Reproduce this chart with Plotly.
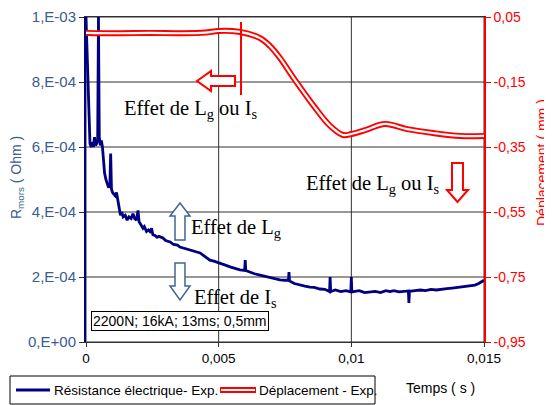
import plotly.graph_objects as go

# --- DATA ---
res_time = [0, 0.00015, 0.0002, 0.00024, 0.00028, 0.00032, 0.00036, 0.0004, 0.00044, 0.00047,
            0.0005, 0.00054, 0.00058, 0.00062, 0.00066, 0.0007, 0.00075, 0.0008, 0.00085, 0.0009,
            0.00093, 0.00096, 0.001, 0.00105, 0.0011, 0.00115, 0.0012, 0.00125, 0.0013, 0.00135,
            0.0014, 0.00148, 0.00155, 0.00162, 0.0017, 0.00177, 0.00183, 0.0019, 0.00196, 0.002,
            0.00208, 0.00215, 0.0022, 0.00228, 0.00235, 0.00241, 0.00247, 0.00252, 0.0026, 0.00268,
            0.00275, 0.0029, 0.003, 0.00317, 0.0033, 0.00345, 0.00354, 0.0037, 0.00392, 0.0041,
            0.0043, 0.0045, 0.00467, 0.00485, 0.00505, 0.0052, 0.00543, 0.0056, 0.0058, 0.00598,
            0.006, 0.00602, 0.00618, 0.00635, 0.00656, 0.00675, 0.00693, 0.0071, 0.00731, 0.0075,
            0.00763, 0.00765, 0.00767, 0.00785, 0.00807, 0.00825, 0.00844, 0.0086, 0.00882, 0.009,
            0.00918, 0.0092, 0.00922, 0.0094, 0.0096, 0.0098, 0.00998, 0.01, 0.01002, 0.0103,
            0.0105, 0.0107, 0.0109, 0.0111, 0.0113, 0.01146, 0.0116, 0.0118, 0.01215, 0.01217,
            0.01219, 0.0124, 0.0126, 0.0128, 0.013, 0.0132, 0.0134, 0.0136, 0.0138, 0.0141,
            0.0143, 0.01466, 0.0148, 0.015]
res_ohm = [1.0e-3, 6.1e-4, 6.0e-4, 6.15e-4, 6.0e-4, 6.3e-4, 6.05e-4, 6.1e-4, 6.2e-4, 1.0e-3,
           6.3e-4, 6.05e-4, 6.2e-4, 6.0e-4, 5.6e-4, 5.2e-4, 5.0e-4, 4.9e-4, 4.75e-4, 4.85e-4,
           5.8e-4, 4.7e-4, 4.6e-4, 4.55e-4, 4.5e-4, 4.6e-4, 4.35e-4, 4.2e-4, 3.9e-4, 4.0e-4,
           3.85e-4, 3.9e-4, 3.75e-4, 3.85e-4, 3.8e-4, 3.95e-4, 3.8e-4, 3.75e-4, 4.05e-4, 3.7e-4,
           3.6e-4, 3.5e-4, 3.55e-4, 3.4e-4, 3.45e-4, 3.4e-4, 3.5e-4, 3.3e-4, 3.28e-4, 3.22e-4,
           3.25e-4, 3.2e-4, 3.12e-4, 3.08e-4, 3.0e-4, 2.98e-4, 2.92e-4, 2.88e-4, 2.83e-4, 2.8e-4,
           2.74e-4, 2.62e-4, 2.52e-4, 2.48e-4, 2.43e-4, 2.38e-4, 2.31e-4, 2.26e-4, 2.22e-4, 2.2e-4,
           2.52e-4, 2.2e-4, 2.15e-4, 2.1e-4, 2.06e-4, 2.02e-4, 2.0e-4, 1.95e-4, 1.91e-4, 1.9e-4,
           1.9e-4, 2.15e-4, 1.88e-4, 1.8e-4, 1.75e-4, 1.72e-4, 1.69e-4, 1.68e-4, 1.63e-4, 1.62e-4,
           1.55e-4, 2.0e-4, 1.55e-4, 1.6e-4, 1.55e-4, 1.58e-4, 1.54e-4, 2.0e-4, 1.54e-4, 1.58e-4,
           1.52e-4, 1.55e-4, 1.56e-4, 1.52e-4, 1.58e-4, 1.55e-4, 1.58e-4, 1.54e-4, 1.57e-4, 1.2e-4,
           1.56e-4, 1.58e-4, 1.6e-4, 1.58e-4, 1.62e-4, 1.6e-4, 1.63e-4, 1.64e-4, 1.66e-4, 1.69e-4,
           1.7e-4, 1.75e-4, 1.8e-4, 1.9e-4]

dep_time = [0, 0.0012, 0.0024, 0.0036, 0.0045, 0.005, 0.0058, 0.00656, 0.00693, 0.00731,
            0.0078, 0.00856, 0.0092, 0.00969, 0.01, 0.01052, 0.01127, 0.0121, 0.01308, 0.0141, 0.015]
dep_mm = [0.001, 0.0, 0.001, 0.0, 0.002, 0.007, 0.004, -0.015, -0.039, -0.076,
          -0.135, -0.221, -0.285, -0.313, -0.31, -0.298, -0.279, -0.295, -0.307, -0.316, -0.316]

x_ticks = [0, 0.005, 0.01, 0.015]
x_labels = ["0", "0,005", "0,01", "0,015"]
y_ticks = [0, 2e-4, 4e-4, 6e-4, 8e-4, 1e-3]
y_labels = ["0,E+00", "2,E-04", "4,E-04", "6,E-04", "8,E-04", "1,E-03"]
y2_ticks = [-0.95, -0.75, -0.55, -0.35, -0.15, 0.05]
y2_labels = ["-0,95", "-0,75", "-0,55", "-0,35", "-0,15", "0,05"]

NAVY = "#000080"
RED = "#FF0000"
BLUE_TXT = "#3A5C8E"
ARROW_BLUE = "#3F6694"
GRID = "#303030"
SANS = "Liberation Sans, Arial"
SERIF = "Liberation Serif, Times New Roman"

# page has an 8px body margin; positions below are page pixels
OFF = 8
PAGE_W, PAGE_H = 552, 405
L, R, T, B = 86, 484, 17, 342
def fx(p):
    return (p - L) / (R - L)
def fy(p):
    return (B - p) / (B - T)

def path(pts):
    return "M " + " L ".join(f"{fx(a):.4f},{fy(b):.4f}" for a, b in pts) + " Z"

fig = go.Figure()
# hollow red line: thick red, thin white on top
fig.add_trace(go.Scatter(x=dep_time, y=dep_mm, yaxis="y2", mode="lines", line_shape="spline",
                         line=dict(color=RED, width=6), showlegend=False, hoverinfo="skip"))
fig.add_trace(go.Scatter(x=dep_time, y=dep_mm, yaxis="y2", mode="lines", line_shape="spline",
                         line=dict(color="white", width=2.2), showlegend=False))
fig.add_trace(go.Scatter(x=res_time, y=res_ohm, mode="lines",
                         line=dict(color=NAVY, width=2.8), showlegend=False))

# grid drawn under the traces
grid = [dict(type="line", layer="below", xref="paper", x0=0, x1=1, yref="y", y0=v, y1=v,
             line=dict(color=GRID, width=1)) for v in y_ticks]
grid += [dict(type="line", layer="below", xref="x", x0=v, x1=v, yref="paper", y0=0, y1=1,
              line=dict(color=GRID, width=1)) for v in x_ticks]

shapes = grid + [
    # legend box and symbols
    dict(type="rect", xref="paper", yref="paper", x0=fx(10), x1=fx(375), y0=fy(376), y1=fy(404),
         line=dict(color="black", width=1)),
    dict(type="line", xref="paper", yref="paper", x0=fx(16), x1=fx(50), y0=fy(390), y1=fy(390),
         line=dict(color=NAVY, width=3)),
    dict(type="line", xref="paper", yref="paper", x0=fx(220), x1=fx(256), y0=fy(390), y1=fy(390),
         line=dict(color=RED, width=6)),
    dict(type="line", xref="paper", yref="paper", x0=fx(221), x1=fx(255), y0=fy(390), y1=fy(390),
         line=dict(color="white", width=2.2)),
    # red marker line and arrows
    dict(type="line", xref="paper", yref="paper", x0=fx(241), x1=fx(241), y0=fy(22), y1=fy(95),
         line=dict(color=RED, width=2)),
    dict(type="path", xref="paper", yref="paper", fillcolor="white", line=dict(color=RED, width=2),
         path=path([(197, 81), (211, 71), (211, 76), (235, 76), (235, 86), (211, 86), (211, 91)])),
    dict(type="path", xref="paper", yref="paper", fillcolor="white", line=dict(color=RED, width=2),
         path=path([(452, 163), (463, 163), (463, 190), (468, 190), (457.5, 202), (447, 190), (452, 190)])),
    # blue hollow arrows
    dict(type="path", xref="paper", yref="paper", fillcolor="white", line=dict(color=ARROW_BLUE, width=1.5),
         path=path([(180, 203), (190, 216), (185, 216), (185, 240), (175, 240), (175, 216), (170, 216)])),
    dict(type="path", xref="paper", yref="paper", fillcolor="white", line=dict(color=ARROW_BLUE, width=1.5),
         path=path([(175, 263), (185, 263), (185, 286), (190, 286), (180, 300), (170, 286), (175, 286)])),
]

def note(text, x, y, size=20.5, family=SERIF, color="black", **kw):
    return dict(text=text, x=fx(x), y=fy(y), xref="paper", yref="paper", showarrow=False,
                xanchor=kw.pop("xanchor", "left"), yanchor=kw.pop("yanchor", "middle"),
                font=dict(family=family, size=size, color=color), **kw)

annotations = [
    note("Effet de L<sub>g</sub> ou I<sub>s</sub>", 122, 109),
    note("Effet de L<sub>g</sub> ou I<sub>s</sub>", 304, 184),
    note("Effet de L<sub>g</sub>", 189, 228),
    note("Effet de I<sub>s</sub>", 192, 298),
    note("2200N; 16kA; 13ms; 0,5mm", 91, 321, size=14, family=SANS,
         bordercolor="black", borderwidth=1, bgcolor="white", borderpad=1),
    note("Résistance électrique- Exp.", 52, 390, size=13.5, family=SANS),
    note("Déplacement - Exp.", 257, 390, size=13.5, family=SANS),
    note("Temps ( s )", 404, 388, size=14, family=SANS),
    note("R<sub>mors</sub> ( Ohm )", 17, 178, size=14, family=SANS, color=BLUE_TXT,
         textangle=-90, xanchor="center"),
    note("Déplacement ( mm )", 542, 163, size=14, family=SANS, color=RED,
         textangle=-90, xanchor="center"),
]

fig.update_layout(
    width=PAGE_W - OFF, height=PAGE_H - OFF,
    margin=dict(l=L - OFF, r=PAGE_W - R, t=T - OFF, b=PAGE_H - B),
    paper_bgcolor="white", plot_bgcolor="white",
    xaxis=dict(range=[0, 0.015], tickvals=x_ticks, ticktext=x_labels, automargin=False,
               showgrid=False, zeroline=False,
               showline=True, linecolor=GRID, linewidth=1, mirror=True,
               ticks="outside", ticklen=4, tickcolor=GRID,
               tickfont=dict(family=SANS, size=13.5, color="black")),
    yaxis=dict(range=[0, 1e-3], tickvals=y_ticks, ticktext=y_labels, automargin=False,
               showgrid=False, zeroline=False,
               showline=True, linecolor=NAVY, linewidth=2,
               ticks="outside", ticklen=5, tickcolor=GRID,
               tickfont=dict(family=SANS, size=15, color=BLUE_TXT)),
    yaxis2=dict(range=[-0.95, 0.05], tickvals=y2_ticks, ticktext=y2_labels, automargin=False,
                overlaying="y", side="right", showgrid=False, zeroline=False,
                showline=True, linecolor=RED, linewidth=1.5,
                ticks="outside", ticklen=5, tickcolor=RED,
                tickfont=dict(family=SANS, size=14, color=RED)),
    shapes=shapes,
    annotations=annotations,
    showlegend=False,
)

fig.write_html("out.html")
